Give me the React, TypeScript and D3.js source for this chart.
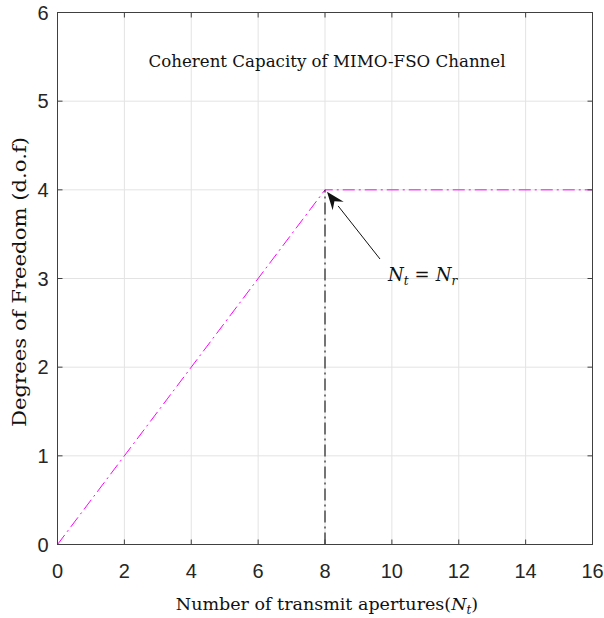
import React from "react";
import * as d3 from "d3";

const xTicks = [0, 2, 4, 6, 8, 10, 12, 14, 16];
const yTicks = [0, 1, 2, 3, 4, 5, 6];
const dofX = [0, 8, 16];
const dofY = [0, 4, 4];
const vertX = [8, 8];
const vertY = [0, 4];
const title = "Coherent Capacity of MIMO-FSO Channel";
const xLabel = "Number of transmit apertures";
const yLabel = "Degrees of Freedom (d.o.f)";

const W = 604, H = 618;
const L = 57.5, R = 592.5, T = 12.5, B = 544.5;

export default function App() {
  const x = d3.scaleLinear().domain([0, 16]).range([L, R]);
  const y = d3.scaleLinear().domain([0, 6]).range([B, T]);
  const line = d3.line<[number, number]>().x(d => x(d[0])).y(d => y(d[1]));
  const mag = line(dofX.map((v, i) => [v, dofY[i]] as [number, number])) || "";
  const vert = line(vertX.map((v, i) => [v, vertY[i]] as [number, number])) || "";
  const serif = "'DejaVu Serif', 'Liberation Serif', serif";
  const sans = "'Liberation Sans', Arial, sans-serif";
  const tipX = x(8) + 2, tipY = y(4) + 2;
  const tailX = 380, tailY = 259;
  const ang = Math.atan2(tipY - tailY, tipX - tailX);
  const hl = 18, hw = 7;
  const bx = tipX - hl * Math.cos(ang), by = tipY - hl * Math.sin(ang);
  const px = -Math.sin(ang), py = Math.cos(ang);
  const head = `M${tipX},${tipY}L${bx + hw * px},${by + hw * py}L${tipX - 12 * Math.cos(ang)},${tipY - 12 * Math.sin(ang)}L${bx - hw * px},${by - hw * py}Z`;
  return (
    <svg width={W} height={H} style={{ position: "absolute", left: 0, top: 0, background: "#fff" }}>
      <rect x={0} y={0} width={W} height={H} fill="#fff" />
      {xTicks.map(t => (
        <line key={"gx" + t} x1={x(t)} x2={x(t)} y1={T} y2={B} stroke="#e3e3e3" strokeWidth={1} />
      ))}
      {yTicks.map(t => (
        <line key={"gy" + t} x1={L} x2={R} y1={y(t)} y2={y(t)} stroke="#e3e3e3" strokeWidth={1} />
      ))}
      <path d={mag} fill="none" stroke="#ff00ff" strokeWidth={1} strokeDasharray="12 4 2 4" />
      <path d={vert} fill="none" stroke="#222" strokeWidth={1.2} strokeDasharray="12 4 2 4" />
      <rect x={L} y={T} width={R - L} height={B - T} fill="none" stroke="#404040" strokeWidth={1} />
      {xTicks.map(t => (
        <g key={"tx" + t}>
          <line x1={x(t)} x2={x(t)} y1={B} y2={B - 5} stroke="#404040" />
          <line x1={x(t)} x2={x(t)} y1={T} y2={T + 5} stroke="#404040" />
          <text x={x(t)} y={B + 33} textAnchor="middle" fontFamily={sans} fontSize={20} fill="#262626">{t}</text>
        </g>
      ))}
      {yTicks.map(t => (
        <g key={"ty" + t}>
          <line x1={L} x2={L + 5} y1={y(t)} y2={y(t)} stroke="#404040" />
          <line x1={R} x2={R - 5} y1={y(t)} y2={y(t)} stroke="#404040" />
          <text x={L - 9} y={y(t) + 7} textAnchor="end" fontFamily={sans} fontSize={20} fill="#262626">{t}</text>
        </g>
      ))}
      <text x={327} y={67} textAnchor="middle" fontFamily={serif} fontSize={16} textLength={357} lengthAdjust="spacingAndGlyphs" fill="#111">{title}</text>
      <line x1={tailX} y1={tailY} x2={bx} y2={by} stroke="#111" strokeWidth={1} />
      <path d={head} fill="#111" />
      <text x={388} y={281} fontFamily={serif} fontSize={18} fill="#111">
        <tspan fontStyle="italic">N</tspan><tspan fontStyle="italic" fontSize={12} dy={4}>t</tspan>
        <tspan dy={-4} dx={6}>=</tspan>
        <tspan dx={6} fontStyle="italic">N</tspan><tspan fontStyle="italic" fontSize={12} dy={4}>r</tspan>
      </text>
      <text x={327} y={610} textAnchor="middle" fontFamily={serif} fontSize={17.5} fill="#111">
        <tspan>{xLabel}(</tspan><tspan fontStyle="italic">N</tspan><tspan fontStyle="italic" fontSize={12} dy={4}>t</tspan><tspan dy={-4}>)</tspan>
      </text>
      <text transform={`translate(26,282) rotate(-90)`} textAnchor="middle" fontFamily={serif} fontSize={18} textLength={290} lengthAdjust="spacingAndGlyphs" fill="#111">{yLabel}</text>
    </svg>
  );
}
